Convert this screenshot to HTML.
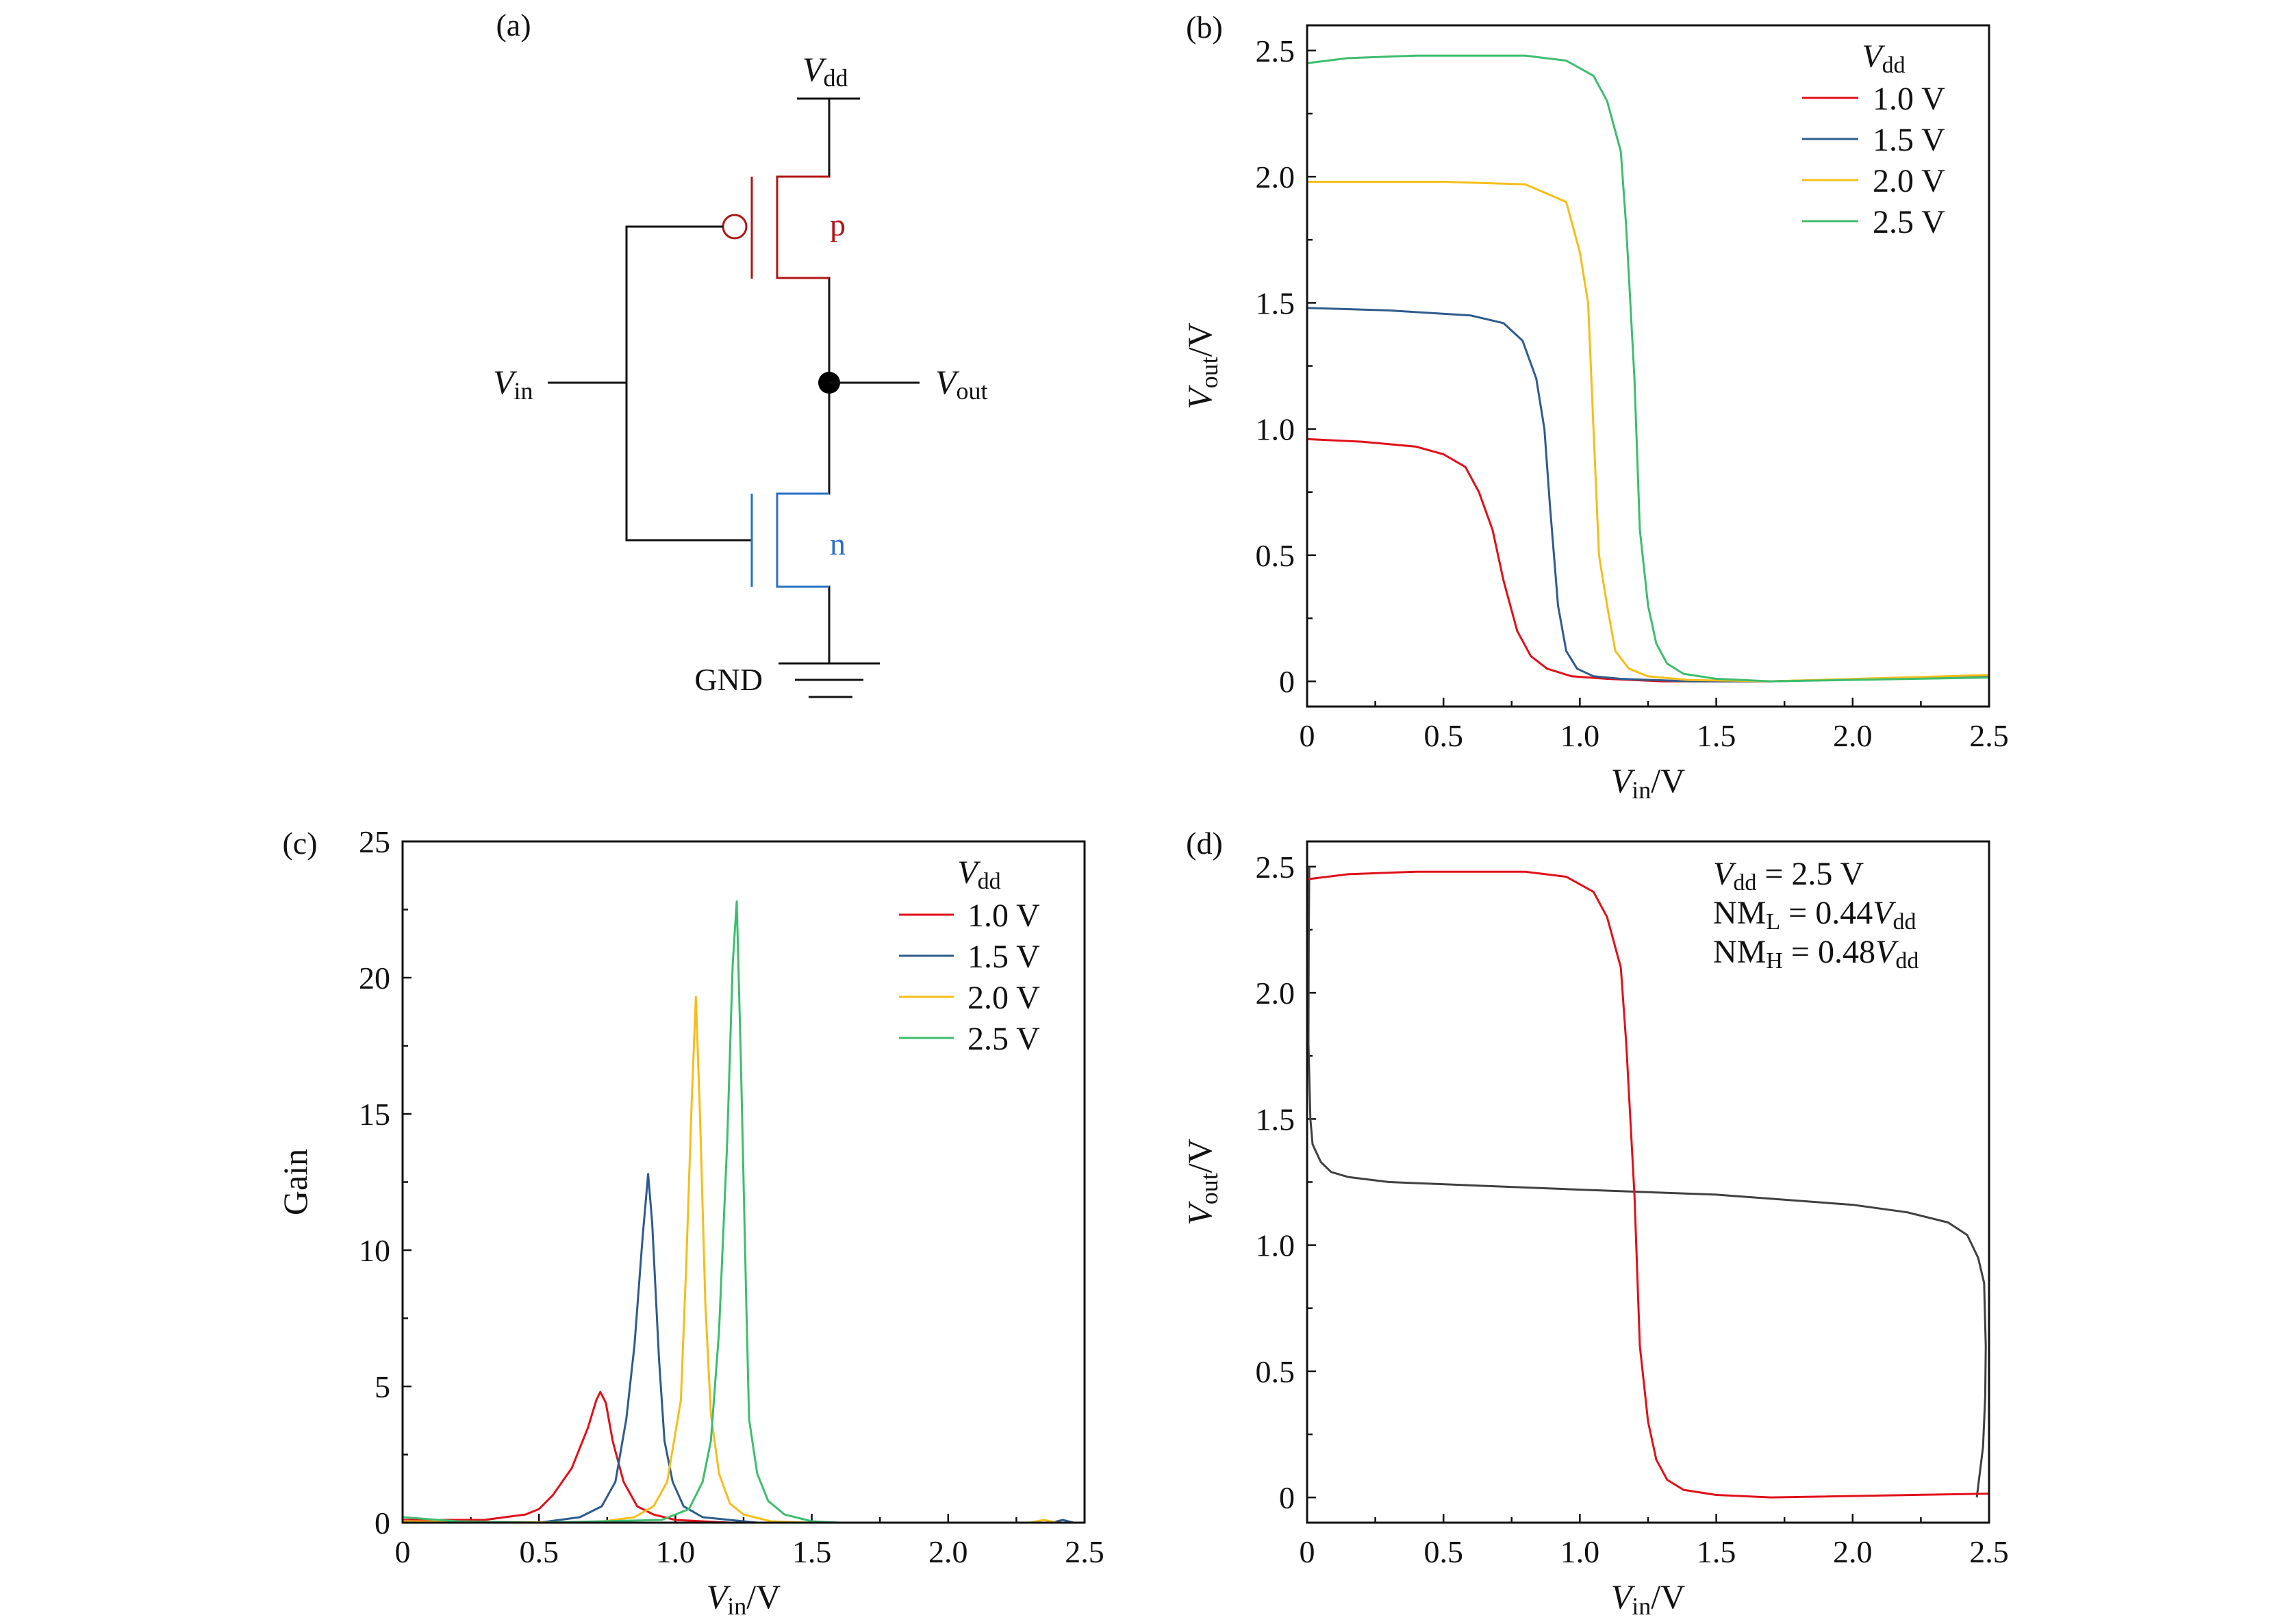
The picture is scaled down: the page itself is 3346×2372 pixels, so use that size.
<!DOCTYPE html>
<html><head><meta charset="utf-8"><style>
html,body{margin:0;padding:0;background:#fff}
svg{display:block}
text{font-family:"Liberation Serif",serif;fill:#111}
</style></head><body>
<svg id="fig" width="3346" height="2372" viewBox="0 0 3346 2372" xmlns="http://www.w3.org/2000/svg">
<g id="circuit" stroke-width="3" fill="none">
  <text x="750" y="52" font-size="46" text-anchor="middle" stroke="none">(a)</text>
  <text x="1172" y="118" font-size="50" stroke="none"><tspan font-style="italic">V</tspan><tspan font-size="36" dy="8">dd</tspan></text>
  <line x1="1164" y1="144" x2="1256" y2="144" stroke="#111"/>
  <polyline points="1211,144 1211,258 1135,258 1135,406 1211,406 1211,721 1135,721 1135,857 1211,857 1211,969" stroke="#111"/>
  <polyline points="1211,258 1135,258 1135,406 1211,406" stroke="#b01414"/>
  <line x1="1098" y1="258" x2="1098" y2="407" stroke="#b01414"/>
  <circle cx="1073" cy="331" r="17" stroke="#b01414"/>
  <text x="1212" y="344" font-size="46" style="fill:#b01414" stroke="none">p</text>
  <polyline points="1056,331 915,331 915,789 1098,789" stroke="#111"/>
  <line x1="800" y1="559" x2="915" y2="559" stroke="#111"/>
  <text x="720" y="575" font-size="50" stroke="none"><tspan font-style="italic">V</tspan><tspan font-size="36" dy="8">in</tspan></text>
  <circle cx="1211" cy="559" r="16" fill="#000" stroke="none"/>
  <line x1="1211" y1="559" x2="1343" y2="559" stroke="#111"/>
  <text x="1366" y="575" font-size="50" stroke="none"><tspan font-style="italic">V</tspan><tspan font-size="36" dy="8">out</tspan></text>
  <polyline points="1211,721 1135,721 1135,857 1211,857" stroke="#2a6fc4"/>
  <line x1="1098" y1="721" x2="1098" y2="857" stroke="#2a6fc4"/>
  <text x="1212" y="810" font-size="46" style="fill:#2a6fc4" stroke="none">n</text>
  <line x1="1137" y1="969" x2="1285" y2="969" stroke="#111"/>
  <line x1="1161" y1="993" x2="1261" y2="993" stroke="#111"/>
  <line x1="1181" y1="1018" x2="1245" y2="1018" stroke="#111"/>
  <text x="1114" y="1008" font-size="46" text-anchor="end" stroke="none">GND</text>
</g>
</svg>
<script>
// ---- data ----
const bTicksX = [0, 0.5, 1.0, 1.5, 2.0, 2.5];
const bTickLabelsX = ["0", "0.5", "1.0", "1.5", "2.0", "2.5"];
const bTicksY = [0, 0.5, 1.0, 1.5, 2.0, 2.5];
const bTickLabelsY = ["0", "0.5", "1.0", "1.5", "2.0", "2.5"];
const cTicksY = [0, 5, 10, 15, 20, 25];
const cTickLabelsY = ["0", "5", "10", "15", "20", "25"];
const legendLabels = ["1.0 V", "1.5 V", "2.0 V", "2.5 V"];

const vtc10x = [0,0.2,0.4,0.5,0.58,0.63,0.68,0.72,0.77,0.82,0.88,0.97,1.1,1.3,1.7,2.5];
const vtc10y = [0.96,0.95,0.93,0.9,0.85,0.75,0.6,0.4,0.2,0.1,0.05,0.02,0.01,0,0,0.02];
const vtc15x = [0,0.3,0.6,0.72,0.79,0.84,0.87,0.89,0.92,0.95,0.99,1.05,1.15,1.4,1.7,2.5];
const vtc15y = [1.48,1.47,1.45,1.42,1.35,1.2,1.0,0.7,0.3,0.12,0.05,0.02,0.01,0,0,0.02];
const vtc20x = [0,0.5,0.8,0.95,1.0,1.03,1.05,1.07,1.1,1.13,1.18,1.25,1.4,1.7,2.5];
const vtc20y = [1.98,1.98,1.97,1.9,1.7,1.5,1.0,0.5,0.3,0.12,0.05,0.02,0.005,0,0.025];
const vtc25x = [0,0.15,0.4,0.8,0.95,1.05,1.1,1.15,1.17,1.2,1.22,1.25,1.28,1.32,1.38,1.5,1.7,2.5];
const vtc25y = [2.45,2.47,2.48,2.48,2.46,2.4,2.3,2.1,1.8,1.2,0.6,0.3,0.15,0.07,0.03,0.01,0,0.015];

const gain10x = [0,0.3,0.45,0.5,0.55,0.62,0.68,0.71,0.725,0.745,0.77,0.81,0.86,0.92,1.0,1.2,2.5];
const gain10y = [0.1,0.1,0.3,0.5,1,2,3.5,4.5,4.8,4.4,3,1.5,0.6,0.3,0.1,0,0];
const gain15x = [0,0.5,0.65,0.73,0.78,0.82,0.85,0.88,0.9,0.915,0.94,0.96,0.99,1.03,1.1,1.3,2.38,2.42,2.46,2.5];
const gain15y = [0,0,0.2,0.6,1.5,3.8,6.5,10.5,12.8,11,6,3,1.5,0.6,0.2,0,0,0.1,0,0];
const gain20x = [0,0.7,0.85,0.92,0.97,1.02,1.04,1.06,1.075,1.09,1.11,1.13,1.16,1.2,1.25,1.35,1.5,2.3,2.35,2.4,2.5];
const gain20y = [0.05,0,0.2,0.6,1.5,4.5,9.5,15.5,19.3,15,8,4,1.8,0.7,0.3,0.05,0,0,0.1,0,0];
const gain25x = [0,0.2,0.5,0.95,1.05,1.1,1.13,1.16,1.19,1.21,1.225,1.24,1.26,1.27,1.3,1.34,1.4,1.5,1.6,2.5];
const gain25y = [0.2,0.05,0,0.1,0.5,1.5,3,7,14,20.5,22.8,17,8,3.8,1.8,0.8,0.3,0.05,0,0];

const mirX = [0.008,0.006,0.005,0.012,0.02,0.05,0.088,0.15,0.3,1.0,1.5,2.0,2.2,2.35,2.42,2.46,2.482,2.488,2.486,2.478,2.455];
const mirY = [2.5,2.2,1.8,1.5,1.4,1.33,1.29,1.27,1.25,1.22,1.2,1.16,1.13,1.09,1.04,0.95,0.85,0.6,0.4,0.2,0];

const colors = ["#e0101a","#2f5b8c","#f5be1a","#3dbd6e"];

// ---- helpers ----
const NS = "http://www.w3.org/2000/svg";
const svg = document.getElementById("fig");
function mk(tag, attrs, parent) {
  const e = document.createElementNS(NS, tag);
  for (const k in attrs) e.setAttribute(k, attrs[k]);
  (parent || svg).appendChild(e);
  return e;
}
function scale(d0, d1, r0, r1) { return v => r0 + (v - d0) / (d1 - d0) * (r1 - r0); }

function panel(opt) {
  const g = mk("g", {});
  
  
  const sx = scale(opt.xd[0], opt.xd[1], opt.L, opt.R);
  const sy = scale(opt.yd[0], opt.yd[1], opt.B, opt.T);
  const xMinor = [];
  for (let i = 0; i < opt.xTicks.length; i++) {
    const v = opt.xTicks[i], x = sx(v);
    const t = mk("line", {x1:x, x2:x, y1:opt.B, y2:opt.B-13, stroke:"#111","stroke-width":2.5}, g);
    
    
    const lb = mk("text", {x:x, y:opt.B+58, "font-size":46, "text-anchor":"middle"}, g);
    lb.textContent = opt.xLabels[i];
    
    
    if (i < opt.xTicks.length - 1) xMinor.push((v + opt.xTicks[i+1]) / 2);
  }
  xMinor.forEach(v => {
    const t = mk("line", {x1:sx(v), x2:sx(v), y1:opt.B, y2:opt.B-8, stroke:"#111","stroke-width":2.5}, g);
    
    
  });
  for (let i = 0; i < opt.yTicks.length; i++) {
    const v = opt.yTicks[i], y = sy(v);
    const t = mk("line", {x1:opt.L, x2:opt.L+13, y1:y, y2:y, stroke:"#111","stroke-width":2.5}, g);
    
    
    const lb = mk("text", {x:opt.L-18, y:y+16, "font-size":46, "text-anchor":"end"}, g);
    lb.textContent = opt.yLabels[i];
    
    
    if (i < opt.yTicks.length - 1) {
      const m = sy((v + opt.yTicks[i+1]) / 2);
      const t2 = mk("line", {x1:opt.L, x2:opt.L+8, y1:m, y2:m, stroke:"#111","stroke-width":2.5}, g);
      
      
    }
  }
  const clipId = opt.name + "-clip";
  const cp = mk("clipPath", {id: clipId}, g);
  mk("rect", {x:opt.L, y:opt.T, width:opt.R-opt.L, height:opt.B-opt.T}, cp);
  opt.series.forEach(s => {
    const pts = s.x.map((v, i) => sx(v).toFixed(1) + "," + sy(s.y[i]).toFixed(1)).join(" ");
    const p = mk("polyline", {points:pts, fill:"none", stroke:s.color, "stroke-width":3, "stroke-linejoin":"round", "clip-path":"url(#"+clipId+")"}, g);
    
    
  });
  const fr = mk("rect", {x:opt.L, y:opt.T, width:opt.R-opt.L, height:opt.B-opt.T, fill:"none", stroke:"#111", "stroke-width":3}, g);
  
  
  const pl = mk("text", {x:opt.L-150, y:opt.T+18, "font-size":46, "text-anchor":"middle"}, g);
  pl.textContent = opt.panelLabel;
  
  
  const xt = mk("text", {x:(opt.L+opt.R)/2, y:opt.B+125, "font-size":50, "text-anchor":"middle"}, g);
  xt.innerHTML = '<tspan font-style="italic">V</tspan><tspan font-size="36" dy="9">in</tspan><tspan dy="-9">/V</tspan>';
  
  
  const yt = mk("text", {x:0, y:0, "font-size":50, "text-anchor":"middle", transform:"translate("+(opt.L-140)+","+((opt.T+opt.B)/2)+") rotate(-90)"}, g);
  yt.innerHTML = opt.yTitle;
  
  
  return g;
}

function legend(g, titleX, titleY, lineX1, lineX2, rowY, textX) {
  const t = mk("text", {x:titleX, y:titleY, "font-size":48, "text-anchor":"middle"}, g);
  t.innerHTML = '<tspan font-style="italic">V</tspan><tspan font-size="34" dy="8">dd</tspan>';
  
  
  legendLabels.forEach((lab, i) => {
    const y = rowY[0] + i * (rowY[1] - rowY[0]);
    const ln = mk("line", {x1:lineX1, x2:lineX2, y1:y, y2:y, stroke:colors[i], "stroke-width":3}, g);
    
    
    const tx = mk("text", {x:textX, y:y+17, "font-size":48}, g);
    tx.textContent = lab;
    
    
  });
}

const voutTitle = '<tspan font-style="italic">V</tspan><tspan font-size="36" dy="9">out</tspan><tspan dy="-9">/V</tspan>';

const gb = panel({name:"panel-b-vtc", L:1909, R:2905, T:37, B:1032, xd:[0,2.5], yd:[-0.1,2.6],
  xTicks:bTicksX, xLabels:bTickLabelsX, yTicks:bTicksY, yLabels:bTickLabelsY, panelLabel:"(b)", yTitle:voutTitle,
  series:[{name:"vtc-1v0",x:vtc10x,y:vtc10y,color:colors[0]},{name:"vtc-1v5",x:vtc15x,y:vtc15y,color:colors[1]},
          {name:"vtc-2v0",x:vtc20x,y:vtc20y,color:colors[2]},{name:"vtc-2v5",x:vtc25x,y:vtc25y,color:colors[3]}]});
legend(gb, 2751, 98, 2632, 2714, [143, 203], 2735);

const gc = panel({name:"panel-c-gain", L:588, R:1584, T:1229, B:2224, xd:[0,2.5], yd:[0,25],
  xTicks:bTicksX, xLabels:bTickLabelsX, yTicks:cTicksY, yLabels:cTickLabelsY, panelLabel:"(c)",
  yTitle:'Gain',
  series:[{name:"gain-1v0",x:gain10x,y:gain10y,color:colors[0]},{name:"gain-1v5",x:gain15x,y:gain15y,color:colors[1]},
          {name:"gain-2v0",x:gain20x,y:gain20y,color:colors[2]},{name:"gain-2v5",x:gain25x,y:gain25y,color:colors[3]}]});
legend(gc, 1430, 1290, 1313, 1393, [1336, 1396], 1413);

const gd = panel({name:"panel-d-butterfly", L:1909, R:2905, T:1229, B:2224, xd:[0,2.5], yd:[-0.1,2.6],
  xTicks:bTicksX, xLabels:bTickLabelsX, yTicks:bTicksY, yLabels:bTickLabelsY, panelLabel:"(d)", yTitle:voutTitle,
  series:[{name:"mirrored-vtc",x:mirX,y:mirY,color:"#404040"},{name:"vtc-2v5",x:vtc25x,y:vtc25y,color:"#e0101a"}]});
const ann = [
  '<tspan font-style="italic">V</tspan><tspan font-size="34" dy="8">dd</tspan><tspan dy="-8"> = 2.5 V</tspan>',
  'NM<tspan font-size="34" dy="8">L</tspan><tspan dy="-8"> = 0.44</tspan><tspan font-style="italic">V</tspan><tspan font-size="34" dy="8">dd</tspan>',
  'NM<tspan font-size="34" dy="8">H</tspan><tspan dy="-8"> = 0.48</tspan><tspan font-style="italic">V</tspan><tspan font-size="34" dy="8">dd</tspan>'];
ann.forEach((h, i) => {
  const t = mk("text", {x:2502, y:1292 + i*57, "font-size":48}, gd);
  t.innerHTML = h;
  
  
});
</script>
</body></html>
